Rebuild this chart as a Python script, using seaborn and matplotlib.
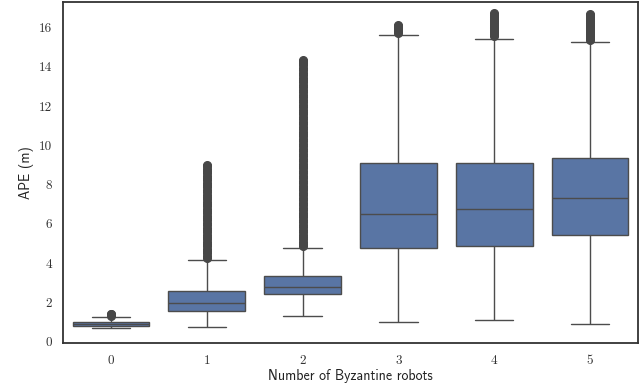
import numpy as np
import pandas as pd
import matplotlib
matplotlib.use("Agg")
import matplotlib.pyplot as plt
import seaborn as sns

# Categories (number of Byzantine robots)
categories = ["0", "1", "2", "3", "4", "5"]

# Five-number summaries: lower whisker, Q1, median, Q3, upper whisker
whisker_low = [0.71, 0.73, 1.29, 1.00, 1.12, 0.90]
q1 = [0.80, 1.56, 2.41, 4.75, 4.87, 5.41]
median = [0.90, 1.95, 2.80, 6.50, 6.74, 7.33]
q3 = [1.00, 2.60, 3.36, 9.11, 9.11, 9.35]
whisker_high = [1.24, 4.14, 4.75, 15.62, 15.44, 15.24]

# Outliers (dense bands above the upper whiskers)
outliers_0 = [1.32, 1.36, 1.40, 1.42]
outliers_1 = [4.25, 4.37, 4.49, 4.61, 4.73, 4.85, 4.97, 5.09, 5.21, 5.33, 5.45,
              5.57, 5.69, 5.81, 5.93, 6.05, 6.17, 6.29, 6.41, 6.53, 6.65, 6.77,
              6.89, 7.01, 7.13, 7.25, 7.37, 7.49, 7.61, 7.73, 7.85, 7.97, 8.09,
              8.21, 8.33, 8.45, 8.57, 8.69, 8.81, 8.93, 8.97]
outliers_2 = [4.85, 4.95, 5.07, 5.2, 5.32, 5.45, 5.57, 5.7, 5.82, 5.95, 6.07,
              6.2, 6.32, 6.45, 6.57, 6.7, 6.82, 6.95, 7.07, 7.2, 7.32, 7.45,
              7.57, 7.7, 7.82, 7.95, 8.07, 8.2, 8.32, 8.45, 8.57, 8.7, 8.82,
              8.95, 9.07, 9.2, 9.32, 9.45, 9.57, 9.7, 9.82, 9.95, 10.07, 10.2,
              10.32, 10.45, 10.57, 10.7, 10.82, 10.95, 11.07, 11.2, 11.32, 11.45,
              11.57, 11.7, 11.82, 11.95, 12.07, 12.2, 12.32, 12.45, 12.57, 12.7,
              12.82, 12.95, 13.07, 13.2, 13.32, 13.45, 13.57, 13.7, 13.82, 13.95,
              14.07, 14.2, 14.3, 14.35]
outliers_3 = [15.72, 15.8, 15.88, 15.96, 16.04, 16.1, 16.15]
outliers_4 = [15.55, 15.65, 15.75, 15.85, 15.95, 16.05, 16.15, 16.25, 16.35,
              16.45, 16.55, 16.65, 16.75]
outliers_5 = [15.35, 15.45, 15.55, 15.65, 15.75, 15.85, 15.95, 16.05, 16.15,
              16.25, 16.35, 16.45, 16.55, 16.62, 16.68]
outliers = [outliers_0, outliers_1, outliers_2, outliers_3, outliers_4, outliers_5]

# Build a sample per category that reproduces the summary statistics
REPEAT = 400
rows = []
for i, cat in enumerate(categories):
    summary = [whisker_low[i], q1[i], median[i], q3[i], whisker_high[i]]
    vals = list(np.repeat(summary, REPEAT)) + list(outliers[i])
    rows.extend((cat, v) for v in vals)
df = pd.DataFrame(rows, columns=["robots", "ape"])

sns.set_style("white")
fig = plt.figure(figsize=(6.44, 3.85), dpi=100)
ax = fig.add_axes([0.0978, 0.1083, 0.8929, 0.8865])

sns.boxplot(data=df, x="robots", y="ape", order=categories, color="#4c72b0",
            width=0.8, fliersize=5.5, ax=ax,
            flierprops=dict(marker="o", markerfacecolor="#474747",
                            markeredgecolor="#474747"))

ax.set_xlim(-0.5, 5.5)
ax.set_ylim(-0.09, 17.3)
ax.set_yticks([0, 2, 4, 6, 8, 10, 12, 14, 16])

for lab in ax.get_xticklabels() + ax.get_yticklabels():
    lab.set_fontfamily("cmr10")
    lab.set_fontsize(9.5)
    lab.set_color("#333333")
ax.tick_params(axis="both", length=0, pad=8)

ax.set_xlabel("Number of Byzantine robots", fontfamily="cmss10", fontsize=10,
              color="#222222", labelpad=2)
ax.set_ylabel("APE (m)", fontfamily="cmss10", fontsize=10, color="#222222",
              labelpad=3)

for sp in ax.spines.values():
    sp.set_color("#333333")
    sp.set_linewidth(1.3)

fig.savefig("out.png", dpi=100)
